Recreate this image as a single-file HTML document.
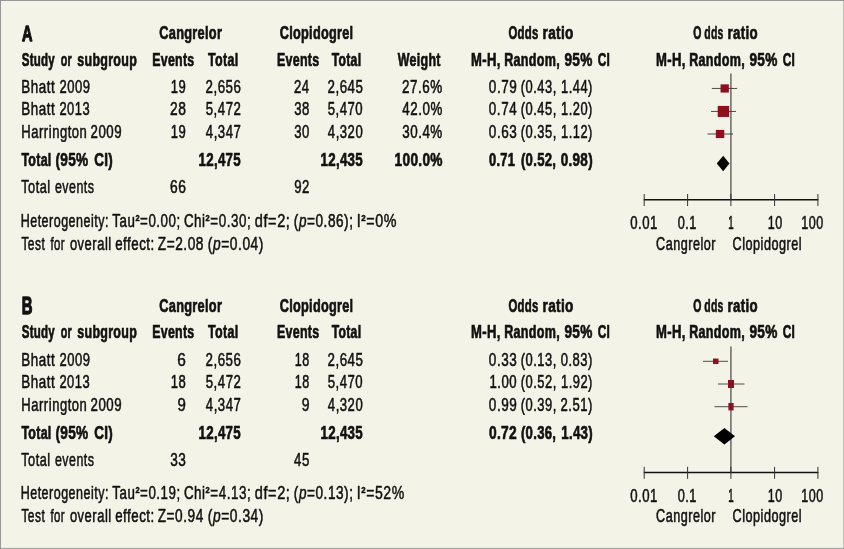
<!DOCTYPE html>
<html lang="en"><head><meta charset="utf-8"><title>Forest plot</title>
<style>
html,body{margin:0;padding:0;background:#f3f3e7;}
svg{display:block;}
text{font-family:"Liberation Sans",sans-serif;fill:#111;stroke:#111;vector-effect:non-scaling-stroke;stroke-linejoin:round;}
</style></head><body>
<svg width="844" height="549" viewBox="0 0 844 549">
<rect x="0" y="0" width="844" height="549" fill="#f3f3e7"/>
<rect x="843" y="0" width="1" height="549" fill="#c2c2bc"/>
<rect x="0" y="547.9" width="844" height="1.1" fill="#a2a2a0"/>
<rect x="0" y="0" width="844" height="1" fill="#979797"/>
<rect x="0" y="0" width="1" height="549" fill="#979797"/>

<line x1="730.9" y1="73.6" x2="730.9" y2="199.7" stroke="#72726c" stroke-width="1.6"/>
<line x1="711.8" y1="88.45" x2="737.2" y2="88.45" stroke="#383838" stroke-width="0.9"/>
<line x1="711" y1="111.45" x2="736" y2="111.45" stroke="#383838" stroke-width="0.9"/>
<line x1="707.5" y1="134" x2="733" y2="134" stroke="#383838" stroke-width="0.9"/>
<rect x="720.55" y="84.35" width="8.3" height="8.2" fill="#8f0f1e"/>
<rect x="717.70" y="105.95" width="11.4" height="11.0" fill="#8f0f1e"/>
<rect x="715.85" y="129.90" width="8.4" height="8.2" fill="#8f0f1e"/>
<polygon points="716.8,163.5 723.15,155.8 729.5,163.5 723.15,171.2" fill="#000"/>
<line x1="643.7" y1="199.7" x2="818.4" y2="199.7" stroke="#111" stroke-width="1.5"/>
<line x1="644.2" y1="194.0" x2="644.2" y2="206.0" stroke="#333" stroke-width="1"/>
<line x1="687.6" y1="194.0" x2="687.6" y2="206.0" stroke="#333" stroke-width="1"/>
<line x1="730.9" y1="194.0" x2="730.9" y2="206.0" stroke="#333" stroke-width="1"/>
<line x1="774.6" y1="194.0" x2="774.6" y2="206.0" stroke="#333" stroke-width="1"/>
<line x1="817.9" y1="194.0" x2="817.9" y2="206.0" stroke="#333" stroke-width="1"/>
<line x1="730.9" y1="346.40000000000003" x2="730.9" y2="472.5" stroke="#72726c" stroke-width="1.6"/>
<line x1="703" y1="361.3" x2="728" y2="361.3" stroke="#383838" stroke-width="0.9"/>
<line x1="718" y1="384.0" x2="744.5" y2="384.0" stroke="#383838" stroke-width="0.9"/>
<line x1="714.5" y1="406.70000000000005" x2="747.5" y2="406.70000000000005" stroke="#383838" stroke-width="0.9"/>
<rect x="713.00" y="358.55" width="5.5" height="5.5" fill="#8f0f1e"/>
<rect x="728.00" y="380.00" width="6" height="8" fill="#8f0f1e"/>
<rect x="728.40" y="403.00" width="5.2" height="7.4" fill="#8f0f1e"/>
<polygon points="713.8,436.20000000000005 724.4,428.00000000000006 735,436.20000000000005 724.4,444.40000000000003" fill="#000"/>
<line x1="643.7" y1="472.5" x2="818.4" y2="472.5" stroke="#111" stroke-width="1.5"/>
<line x1="644.2" y1="466.8" x2="644.2" y2="478.8" stroke="#333" stroke-width="1"/>
<line x1="687.6" y1="466.8" x2="687.6" y2="478.8" stroke="#333" stroke-width="1"/>
<line x1="730.9" y1="466.8" x2="730.9" y2="478.8" stroke="#333" stroke-width="1"/>
<line x1="774.6" y1="466.8" x2="774.6" y2="478.8" stroke="#333" stroke-width="1"/>
<line x1="817.9" y1="466.8" x2="817.9" y2="478.8" stroke="#333" stroke-width="1"/>
<g opacity="0.999">
<text transform="translate(22.03 41.30) scale(0.6467 1)" font-size="22.5" font-weight="bold" stroke-width="1.1">A</text>
<text transform="translate(159.26 38.50) scale(0.7261 1)" font-size="17.6" font-weight="bold" stroke-width="0.6" letter-spacing="0.4">Cangrelor</text>
<text transform="translate(279.76 38.50) scale(0.7208 1)" font-size="17.6" font-weight="bold" stroke-width="0.6" letter-spacing="0.4">Clopidogrel</text>
<text transform="translate(508.52 38.50) scale(0.6458 1)" font-size="17.6" font-weight="bold" stroke-width="0.6" letter-spacing="0.4">Odds</text>
<text transform="translate(542.53 38.50) scale(0.7748 1)" font-size="17.6" font-weight="bold" stroke-width="0.6" letter-spacing="0.4">ratio</text>
<text transform="translate(693.26 38.50) scale(0.5929 1)" font-size="17.6" font-weight="bold" stroke-width="0.6" letter-spacing="0.4">O<tspan dx='4.6'>dds</tspan></text>
<text transform="translate(727.56 38.50) scale(0.7550 1)" font-size="17.6" font-weight="bold" stroke-width="0.6" letter-spacing="0.4">ratio</text>
<text transform="translate(21.77 65.60) scale(0.6533 1)" font-size="17.6" font-weight="bold" stroke-width="0.6" letter-spacing="0.4">Study</text>
<text transform="translate(60.74 65.60) scale(0.6118 1)" font-size="17.6" font-weight="bold" stroke-width="0.6" letter-spacing="0.4">or</text>
<text transform="translate(77.37 65.60) scale(0.7079 1)" font-size="17.6" font-weight="bold" stroke-width="0.6" letter-spacing="0.4">subgroup</text>
<text transform="translate(152.22 65.60) scale(0.7030 1)" font-size="17.6" font-weight="bold" stroke-width="0.6" letter-spacing="0.4">Events</text>
<text transform="translate(208.12 65.60) scale(0.7092 1)" font-size="17.6" font-weight="bold" stroke-width="0.6" letter-spacing="0.4">Total</text>
<text transform="translate(276.91 65.60) scale(0.7082 1)" font-size="17.6" font-weight="bold" stroke-width="0.6" letter-spacing="0.4">Events</text>
<text transform="translate(331.63 65.60) scale(0.6969 1)" font-size="17.6" font-weight="bold" stroke-width="0.6" letter-spacing="0.4">Total</text>
<text transform="translate(397.80 65.60) scale(0.7067 1)" font-size="17.6" font-weight="bold" stroke-width="0.6" letter-spacing="0.4">Weight</text>
<text transform="translate(471.12 65.60) scale(0.7419 1)" font-size="17.6" font-weight="bold" stroke-width="0.6" letter-spacing="0.4">M-H,</text>
<text transform="translate(504.21 65.60) scale(0.7150 1)" font-size="17.6" font-weight="bold" stroke-width="0.6" letter-spacing="0.4">Random,</text>
<text transform="translate(564.41 65.60) scale(0.7743 1)" font-size="17.6" font-weight="bold" stroke-width="0.6" letter-spacing="0.4">95%</text>
<text transform="translate(597.69 65.60) scale(0.6750 1)" font-size="17.6" font-weight="bold" stroke-width="0.6" letter-spacing="0.4">CI</text>
<text transform="translate(656.12 65.60) scale(0.7419 1)" font-size="17.6" font-weight="bold" stroke-width="0.6" letter-spacing="0.4">M-H,</text>
<text transform="translate(689.21 65.60) scale(0.7150 1)" font-size="17.6" font-weight="bold" stroke-width="0.6" letter-spacing="0.4">Random,</text>
<text transform="translate(749.41 65.60) scale(0.7743 1)" font-size="17.6" font-weight="bold" stroke-width="0.6" letter-spacing="0.4">95%</text>
<text transform="translate(782.69 65.60) scale(0.6750 1)" font-size="17.6" font-weight="bold" stroke-width="0.6" letter-spacing="0.4">CI</text>
<text transform="translate(21.30 92.80) scale(0.7626 1)" font-size="17.6" font-weight="normal" stroke-width="0.48" letter-spacing="0.7">Bhatt</text>
<text transform="translate(59.40 92.80) scale(0.7397 1)" font-size="17.6" font-weight="normal" stroke-width="0.48" letter-spacing="0.7">2009</text>
<text transform="translate(170.81 92.80) scale(0.7408 1)" font-size="17.6" font-weight="normal" stroke-width="0.48" letter-spacing="0.7">19</text>
<text transform="translate(205.48 92.80) scale(0.7560 1)" font-size="17.6" font-weight="normal" stroke-width="0.48" letter-spacing="0.7">2,656</text>
<text transform="translate(293.99 92.80) scale(0.7477 1)" font-size="17.6" font-weight="normal" stroke-width="0.48" letter-spacing="0.7">24</text>
<text transform="translate(327.48 92.80) scale(0.7560 1)" font-size="17.6" font-weight="normal" stroke-width="0.48" letter-spacing="0.7">2,645</text>
<text transform="translate(401.97 92.80) scale(0.7651 1)" font-size="17.6" font-weight="normal" stroke-width="0.48" letter-spacing="0.7">27.6%</text>
<text transform="translate(488.86 92.80) scale(0.7689 1)" font-size="17.6" font-weight="normal" stroke-width="0.48" letter-spacing="0.7">0.79</text>
<text transform="translate(520.71 92.80) scale(0.7330 1)" font-size="17.6" font-weight="normal" stroke-width="0.48" letter-spacing="0.7">(0.43,</text>
<text transform="translate(561.03 92.80) scale(0.7314 1)" font-size="17.6" font-weight="normal" stroke-width="0.48" letter-spacing="0.7">1.44)</text>
<text transform="translate(21.30 114.80) scale(0.7626 1)" font-size="17.6" font-weight="normal" stroke-width="0.48" letter-spacing="0.7">Bhatt</text>
<text transform="translate(59.41 114.80) scale(0.7347 1)" font-size="17.6" font-weight="normal" stroke-width="0.48" letter-spacing="0.7">2013</text>
<text transform="translate(169.96 114.80) scale(0.7849 1)" font-size="17.6" font-weight="normal" stroke-width="0.48" letter-spacing="0.7">28</text>
<text transform="translate(205.68 114.80) scale(0.7518 1)" font-size="17.6" font-weight="normal" stroke-width="0.48" letter-spacing="0.7">5,472</text>
<text transform="translate(294.18 114.80) scale(0.7477 1)" font-size="17.6" font-weight="normal" stroke-width="0.48" letter-spacing="0.7">38</text>
<text transform="translate(327.68 114.80) scale(0.7477 1)" font-size="17.6" font-weight="normal" stroke-width="0.48" letter-spacing="0.7">5,470</text>
<text transform="translate(402.36 114.80) scale(0.7577 1)" font-size="17.6" font-weight="normal" stroke-width="0.48" letter-spacing="0.7">42.0%</text>
<text transform="translate(488.87 114.80) scale(0.7634 1)" font-size="17.6" font-weight="normal" stroke-width="0.48" letter-spacing="0.7">0.74</text>
<text transform="translate(520.71 114.80) scale(0.7330 1)" font-size="17.6" font-weight="normal" stroke-width="0.48" letter-spacing="0.7">(0.45,</text>
<text transform="translate(561.03 114.80) scale(0.7314 1)" font-size="17.6" font-weight="normal" stroke-width="0.48" letter-spacing="0.7">1.20)</text>
<text transform="translate(21.33 137.70) scale(0.7408 1)" font-size="17.6" font-weight="normal" stroke-width="0.48" letter-spacing="0.7">Harrington</text>
<text transform="translate(90.59 137.70) scale(0.7524 1)" font-size="17.6" font-weight="normal" stroke-width="0.48" letter-spacing="0.7">2009</text>
<text transform="translate(170.81 137.70) scale(0.7408 1)" font-size="17.6" font-weight="normal" stroke-width="0.48" letter-spacing="0.7">19</text>
<text transform="translate(205.87 137.70) scale(0.7477 1)" font-size="17.6" font-weight="normal" stroke-width="0.48" letter-spacing="0.7">4,347</text>
<text transform="translate(294.18 137.70) scale(0.7477 1)" font-size="17.6" font-weight="normal" stroke-width="0.48" letter-spacing="0.7">30</text>
<text transform="translate(327.87 137.70) scale(0.7436 1)" font-size="17.6" font-weight="normal" stroke-width="0.48" letter-spacing="0.7">4,320</text>
<text transform="translate(402.17 137.70) scale(0.7614 1)" font-size="17.6" font-weight="normal" stroke-width="0.48" letter-spacing="0.7">30.4%</text>
<text transform="translate(488.86 137.70) scale(0.7689 1)" font-size="17.6" font-weight="normal" stroke-width="0.48" letter-spacing="0.7">0.63</text>
<text transform="translate(520.71 137.70) scale(0.7330 1)" font-size="17.6" font-weight="normal" stroke-width="0.48" letter-spacing="0.7">(0.35,</text>
<text transform="translate(561.03 137.70) scale(0.7314 1)" font-size="17.6" font-weight="normal" stroke-width="0.48" letter-spacing="0.7">1.12)</text>
<text transform="translate(21.42 166.00) scale(0.7067 1)" font-size="17.6" font-weight="bold" stroke-width="0.6" letter-spacing="0.4">Total</text>
<text transform="translate(55.42 166.00) scale(0.7732 1)" font-size="17.6" font-weight="bold" stroke-width="0.6" letter-spacing="0.4">(95%</text>
<text transform="translate(94.23 166.00) scale(0.7644 1)" font-size="17.6" font-weight="bold" stroke-width="0.6" letter-spacing="0.4">CI)</text>
<text transform="translate(198.55 166.00) scale(0.7539 1)" font-size="17.6" font-weight="bold" stroke-width="0.6" letter-spacing="0.4">12,475</text>
<text transform="translate(320.55 166.00) scale(0.7539 1)" font-size="17.6" font-weight="bold" stroke-width="0.6" letter-spacing="0.4">12,435</text>
<text transform="translate(394.52 166.00) scale(0.7784 1)" font-size="17.6" font-weight="bold" stroke-width="0.6" letter-spacing="0.4">100.0%</text>
<text transform="translate(488.95 166.00) scale(0.7328 1)" font-size="17.6" font-weight="bold" stroke-width="0.6" letter-spacing="0.4">0.71</text>
<text transform="translate(520.94 166.00) scale(0.7467 1)" font-size="17.6" font-weight="bold" stroke-width="0.6" letter-spacing="0.4">(0.52,</text>
<text transform="translate(560.73 166.00) scale(0.7650 1)" font-size="17.6" font-weight="bold" stroke-width="0.6" letter-spacing="0.4">0.98)</text>
<text transform="translate(21.18 192.80) scale(0.7247 1)" font-size="17.6" font-weight="normal" stroke-width="0.48" letter-spacing="0.7">Total</text>
<text transform="translate(54.91 192.80) scale(0.7059 1)" font-size="17.6" font-weight="normal" stroke-width="0.48" letter-spacing="0.7">events</text>
<text transform="translate(169.96 192.80) scale(0.7849 1)" font-size="17.6" font-weight="normal" stroke-width="0.48" letter-spacing="0.7">66</text>
<text transform="translate(294.18 192.80) scale(0.7477 1)" font-size="17.6" font-weight="normal" stroke-width="0.48" letter-spacing="0.7">92</text>
<text transform="translate(20.67 227.00) scale(0.7105 1)" font-size="17.6" font-weight="normal" stroke-width="0.48" letter-spacing="0.7">Heterogeneity:</text>
<text transform="translate(112.36 227.00) scale(0.7579 1)" font-size="17.6" font-weight="normal" stroke-width="0.48" letter-spacing="0.7">Tau<tspan font-size='9.8' font-weight='bold' dy='-6.4'>2</tspan><tspan dy='6.4'>=0.00;</tspan></text>
<text transform="translate(183.88 227.00) scale(0.7626 1)" font-size="17.6" font-weight="normal" stroke-width="0.48" letter-spacing="0.7">Chi<tspan font-size='9.8' font-weight='bold' dy='-6.4'>2</tspan><tspan dy='6.4'>=0.30;</tspan></text>
<text transform="translate(254.82 227.00) scale(0.8278 1)" font-size="17.6" font-weight="normal" stroke-width="0.48" letter-spacing="0.7">df=2;</text>
<text transform="translate(293.87 227.00) scale(0.7719 1)" font-size="17.6" font-weight="normal" stroke-width="0.48" letter-spacing="0.7">(<tspan font-style='italic'>p</tspan>=0.86);</text>
<text transform="translate(356.72 227.00) scale(0.8133 1)" font-size="17.6" font-weight="normal" stroke-width="0.48" letter-spacing="0.7">I<tspan font-size='9.8' font-weight='bold' dy='-6.4'>2</tspan><tspan dy='6.4'>=0%</tspan></text>
<text transform="translate(21.40 249.60) scale(0.6791 1)" font-size="17.6" font-weight="normal" stroke-width="0.48" letter-spacing="0.7">Test</text>
<text transform="translate(50.38 249.60) scale(0.6521 1)" font-size="17.6" font-weight="normal" stroke-width="0.48" letter-spacing="0.7">for</text>
<text transform="translate(69.89 249.60) scale(0.7374 1)" font-size="17.6" font-weight="normal" stroke-width="0.48" letter-spacing="0.7">overall</text>
<text transform="translate(115.17 249.60) scale(0.7539 1)" font-size="17.6" font-weight="normal" stroke-width="0.48" letter-spacing="0.7">effect:</text>
<text transform="translate(157.75 249.60) scale(0.7777 1)" font-size="17.6" font-weight="normal" stroke-width="0.48" letter-spacing="0.7">Z=2.08</text>
<text transform="translate(207.86 249.60) scale(0.7828 1)" font-size="17.6" font-weight="normal" stroke-width="0.48" letter-spacing="0.7">(<tspan font-style='italic'>p</tspan>=0.04)</text>
<text transform="translate(630.18 229.00) scale(0.7488 1)" font-size="17.6" font-weight="normal" stroke-width="0.48" letter-spacing="0.7">0.01</text>
<text transform="translate(677.70 229.00) scale(0.7225 1)" font-size="17.6" font-weight="normal" stroke-width="0.48" letter-spacing="0.7">0.1</text>
<text transform="translate(728.24 229.00) scale(0.5574 1)" font-size="17.6" font-weight="normal" stroke-width="0.48" letter-spacing="0.7">1</text>
<text transform="translate(767.85 229.00) scale(0.7134 1)" font-size="17.6" font-weight="normal" stroke-width="0.48" letter-spacing="0.7">10</text>
<text transform="translate(801.35 229.00) scale(0.7137 1)" font-size="17.6" font-weight="normal" stroke-width="0.48" letter-spacing="0.7">100</text>
<text transform="translate(656.02 249.60) scale(0.7180 1)" font-size="17.6" font-weight="normal" stroke-width="0.48" letter-spacing="0.7">Cangrelor</text>
<text transform="translate(732.52 249.60) scale(0.7202 1)" font-size="17.6" font-weight="normal" stroke-width="0.48" letter-spacing="0.7">Clopidogrel</text>
<text transform="translate(21.68 314.20) scale(0.6456 1)" font-size="23.1" font-weight="bold" stroke-width="1.1">B</text>
<text transform="translate(159.26 312.10) scale(0.7261 1)" font-size="17.6" font-weight="bold" stroke-width="0.6" letter-spacing="0.4">Cangrelor</text>
<text transform="translate(279.76 312.10) scale(0.7208 1)" font-size="17.6" font-weight="bold" stroke-width="0.6" letter-spacing="0.4">Clopidogrel</text>
<text transform="translate(508.52 312.10) scale(0.6458 1)" font-size="17.6" font-weight="bold" stroke-width="0.6" letter-spacing="0.4">Odds</text>
<text transform="translate(542.53 312.10) scale(0.7748 1)" font-size="17.6" font-weight="bold" stroke-width="0.6" letter-spacing="0.4">ratio</text>
<text transform="translate(693.26 312.10) scale(0.5929 1)" font-size="17.6" font-weight="bold" stroke-width="0.6" letter-spacing="0.4">O<tspan dx='4.6'>dds</tspan></text>
<text transform="translate(727.56 312.10) scale(0.7550 1)" font-size="17.6" font-weight="bold" stroke-width="0.6" letter-spacing="0.4">ratio</text>
<text transform="translate(21.77 338.20) scale(0.6533 1)" font-size="17.6" font-weight="bold" stroke-width="0.6" letter-spacing="0.4">Study</text>
<text transform="translate(60.74 338.20) scale(0.6118 1)" font-size="17.6" font-weight="bold" stroke-width="0.6" letter-spacing="0.4">or</text>
<text transform="translate(77.37 338.20) scale(0.7079 1)" font-size="17.6" font-weight="bold" stroke-width="0.6" letter-spacing="0.4">subgroup</text>
<text transform="translate(152.22 338.20) scale(0.7030 1)" font-size="17.6" font-weight="bold" stroke-width="0.6" letter-spacing="0.4">Events</text>
<text transform="translate(208.12 338.20) scale(0.7092 1)" font-size="17.6" font-weight="bold" stroke-width="0.6" letter-spacing="0.4">Total</text>
<text transform="translate(276.91 338.20) scale(0.7082 1)" font-size="17.6" font-weight="bold" stroke-width="0.6" letter-spacing="0.4">Events</text>
<text transform="translate(331.63 338.20) scale(0.6969 1)" font-size="17.6" font-weight="bold" stroke-width="0.6" letter-spacing="0.4">Total</text>
<text transform="translate(471.12 338.20) scale(0.7419 1)" font-size="17.6" font-weight="bold" stroke-width="0.6" letter-spacing="0.4">M-H,</text>
<text transform="translate(504.21 338.20) scale(0.7150 1)" font-size="17.6" font-weight="bold" stroke-width="0.6" letter-spacing="0.4">Random,</text>
<text transform="translate(564.41 338.20) scale(0.7743 1)" font-size="17.6" font-weight="bold" stroke-width="0.6" letter-spacing="0.4">95%</text>
<text transform="translate(597.69 338.20) scale(0.6750 1)" font-size="17.6" font-weight="bold" stroke-width="0.6" letter-spacing="0.4">CI</text>
<text transform="translate(656.12 338.20) scale(0.7419 1)" font-size="17.6" font-weight="bold" stroke-width="0.6" letter-spacing="0.4">M-H,</text>
<text transform="translate(689.21 338.20) scale(0.7150 1)" font-size="17.6" font-weight="bold" stroke-width="0.6" letter-spacing="0.4">Random,</text>
<text transform="translate(749.41 338.20) scale(0.7743 1)" font-size="17.6" font-weight="bold" stroke-width="0.6" letter-spacing="0.4">95%</text>
<text transform="translate(782.69 338.20) scale(0.6750 1)" font-size="17.6" font-weight="bold" stroke-width="0.6" letter-spacing="0.4">CI</text>
<text transform="translate(21.30 365.80) scale(0.7626 1)" font-size="17.6" font-weight="normal" stroke-width="0.48" letter-spacing="0.7">Bhatt</text>
<text transform="translate(59.40 365.80) scale(0.7397 1)" font-size="17.6" font-weight="normal" stroke-width="0.48" letter-spacing="0.7">2009</text>
<text transform="translate(177.36 365.80) scale(0.8775 1)" font-size="17.6" font-weight="normal" stroke-width="0.48" letter-spacing="0.7">6</text>
<text transform="translate(205.48 365.80) scale(0.7560 1)" font-size="17.6" font-weight="normal" stroke-width="0.48" letter-spacing="0.7">2,656</text>
<text transform="translate(294.85 365.80) scale(0.7134 1)" font-size="17.6" font-weight="normal" stroke-width="0.48" letter-spacing="0.7">18</text>
<text transform="translate(327.48 365.80) scale(0.7560 1)" font-size="17.6" font-weight="normal" stroke-width="0.48" letter-spacing="0.7">2,645</text>
<text transform="translate(488.86 365.80) scale(0.7689 1)" font-size="17.6" font-weight="normal" stroke-width="0.48" letter-spacing="0.7">0.33</text>
<text transform="translate(520.71 365.80) scale(0.7330 1)" font-size="17.6" font-weight="normal" stroke-width="0.48" letter-spacing="0.7">(0.13,</text>
<text transform="translate(560.69 365.80) scale(0.7395 1)" font-size="17.6" font-weight="normal" stroke-width="0.48" letter-spacing="0.7">0.83)</text>
<text transform="translate(21.30 387.90) scale(0.7626 1)" font-size="17.6" font-weight="normal" stroke-width="0.48" letter-spacing="0.7">Bhatt</text>
<text transform="translate(59.41 387.90) scale(0.7347 1)" font-size="17.6" font-weight="normal" stroke-width="0.48" letter-spacing="0.7">2013</text>
<text transform="translate(170.81 387.90) scale(0.7408 1)" font-size="17.6" font-weight="normal" stroke-width="0.48" letter-spacing="0.7">18</text>
<text transform="translate(205.68 387.90) scale(0.7518 1)" font-size="17.6" font-weight="normal" stroke-width="0.48" letter-spacing="0.7">5,472</text>
<text transform="translate(294.85 387.90) scale(0.7134 1)" font-size="17.6" font-weight="normal" stroke-width="0.48" letter-spacing="0.7">18</text>
<text transform="translate(327.68 387.90) scale(0.7477 1)" font-size="17.6" font-weight="normal" stroke-width="0.48" letter-spacing="0.7">5,470</text>
<text transform="translate(489.40 387.90) scale(0.7484 1)" font-size="17.6" font-weight="normal" stroke-width="0.48" letter-spacing="0.7">1.00</text>
<text transform="translate(520.71 387.90) scale(0.7330 1)" font-size="17.6" font-weight="normal" stroke-width="0.48" letter-spacing="0.7">(0.52,</text>
<text transform="translate(561.03 387.90) scale(0.7314 1)" font-size="17.6" font-weight="normal" stroke-width="0.48" letter-spacing="0.7">1.92)</text>
<text transform="translate(21.33 410.50) scale(0.7408 1)" font-size="17.6" font-weight="normal" stroke-width="0.48" letter-spacing="0.7">Harrington</text>
<text transform="translate(90.59 410.50) scale(0.7524 1)" font-size="17.6" font-weight="normal" stroke-width="0.48" letter-spacing="0.7">2009</text>
<text transform="translate(177.60 410.50) scale(0.8509 1)" font-size="17.6" font-weight="normal" stroke-width="0.48" letter-spacing="0.7">9</text>
<text transform="translate(205.87 410.50) scale(0.7477 1)" font-size="17.6" font-weight="normal" stroke-width="0.48" letter-spacing="0.7">4,347</text>
<text transform="translate(301.65 410.50) scale(0.7903 1)" font-size="17.6" font-weight="normal" stroke-width="0.48" letter-spacing="0.7">9</text>
<text transform="translate(327.87 410.50) scale(0.7436 1)" font-size="17.6" font-weight="normal" stroke-width="0.48" letter-spacing="0.7">4,320</text>
<text transform="translate(488.86 410.50) scale(0.7689 1)" font-size="17.6" font-weight="normal" stroke-width="0.48" letter-spacing="0.7">0.99</text>
<text transform="translate(520.71 410.50) scale(0.7330 1)" font-size="17.6" font-weight="normal" stroke-width="0.48" letter-spacing="0.7">(0.39,</text>
<text transform="translate(560.50 410.50) scale(0.7440 1)" font-size="17.6" font-weight="normal" stroke-width="0.48" letter-spacing="0.7">2.51)</text>
<text transform="translate(21.42 438.60) scale(0.7067 1)" font-size="17.6" font-weight="bold" stroke-width="0.6" letter-spacing="0.4">Total</text>
<text transform="translate(55.42 438.60) scale(0.7732 1)" font-size="17.6" font-weight="bold" stroke-width="0.6" letter-spacing="0.4">(95%</text>
<text transform="translate(94.23 438.60) scale(0.7644 1)" font-size="17.6" font-weight="bold" stroke-width="0.6" letter-spacing="0.4">CI)</text>
<text transform="translate(198.55 438.60) scale(0.7539 1)" font-size="17.6" font-weight="bold" stroke-width="0.6" letter-spacing="0.4">12,475</text>
<text transform="translate(320.55 438.60) scale(0.7539 1)" font-size="17.6" font-weight="bold" stroke-width="0.6" letter-spacing="0.4">12,435</text>
<text transform="translate(488.91 438.60) scale(0.7824 1)" font-size="17.6" font-weight="bold" stroke-width="0.6" letter-spacing="0.4">0.72</text>
<text transform="translate(520.94 438.60) scale(0.7467 1)" font-size="17.6" font-weight="bold" stroke-width="0.6" letter-spacing="0.4">(0.36,</text>
<text transform="translate(561.25 438.60) scale(0.7522 1)" font-size="17.6" font-weight="bold" stroke-width="0.6" letter-spacing="0.4">1.43)</text>
<text transform="translate(21.18 466.40) scale(0.7247 1)" font-size="17.6" font-weight="normal" stroke-width="0.48" letter-spacing="0.7">Total</text>
<text transform="translate(54.91 466.40) scale(0.7059 1)" font-size="17.6" font-weight="normal" stroke-width="0.48" letter-spacing="0.7">events</text>
<text transform="translate(170.16 466.40) scale(0.7744 1)" font-size="17.6" font-weight="normal" stroke-width="0.48" letter-spacing="0.7">33</text>
<text transform="translate(294.06 466.40) scale(0.7537 1)" font-size="17.6" font-weight="normal" stroke-width="0.48" letter-spacing="0.7">45</text>
<text transform="translate(20.67 498.90) scale(0.7105 1)" font-size="17.6" font-weight="normal" stroke-width="0.48" letter-spacing="0.7">Heterogeneity:</text>
<text transform="translate(112.36 498.90) scale(0.7579 1)" font-size="17.6" font-weight="normal" stroke-width="0.48" letter-spacing="0.7">Tau<tspan font-size='9.8' font-weight='bold' dy='-6.4'>2</tspan><tspan dy='6.4'>=0.19;</tspan></text>
<text transform="translate(183.88 498.90) scale(0.7626 1)" font-size="17.6" font-weight="normal" stroke-width="0.48" letter-spacing="0.7">Chi<tspan font-size='9.8' font-weight='bold' dy='-6.4'>2</tspan><tspan dy='6.4'>=4.13;</tspan></text>
<text transform="translate(254.82 498.90) scale(0.8278 1)" font-size="17.6" font-weight="normal" stroke-width="0.48" letter-spacing="0.7">df=2;</text>
<text transform="translate(293.87 498.90) scale(0.7719 1)" font-size="17.6" font-weight="normal" stroke-width="0.48" letter-spacing="0.7">(<tspan font-style='italic'>p</tspan>=0.13);</text>
<text transform="translate(356.74 498.90) scale(0.8003 1)" font-size="17.6" font-weight="normal" stroke-width="0.48" letter-spacing="0.7">I<tspan font-size='9.8' font-weight='bold' dy='-6.4'>2</tspan><tspan dy='6.4'>=52%</tspan></text>
<text transform="translate(21.40 522.20) scale(0.6791 1)" font-size="17.6" font-weight="normal" stroke-width="0.48" letter-spacing="0.7">Test</text>
<text transform="translate(50.38 522.20) scale(0.6521 1)" font-size="17.6" font-weight="normal" stroke-width="0.48" letter-spacing="0.7">for</text>
<text transform="translate(69.89 522.20) scale(0.7374 1)" font-size="17.6" font-weight="normal" stroke-width="0.48" letter-spacing="0.7">overall</text>
<text transform="translate(115.17 522.20) scale(0.7539 1)" font-size="17.6" font-weight="normal" stroke-width="0.48" letter-spacing="0.7">effect:</text>
<text transform="translate(157.75 522.20) scale(0.7744 1)" font-size="17.6" font-weight="normal" stroke-width="0.48" letter-spacing="0.7">Z=0.94</text>
<text transform="translate(207.86 522.20) scale(0.7828 1)" font-size="17.6" font-weight="normal" stroke-width="0.48" letter-spacing="0.7">(<tspan font-style='italic'>p</tspan>=0.34)</text>
<text transform="translate(630.18 501.60) scale(0.7488 1)" font-size="17.6" font-weight="normal" stroke-width="0.48" letter-spacing="0.7">0.01</text>
<text transform="translate(677.70 501.60) scale(0.7225 1)" font-size="17.6" font-weight="normal" stroke-width="0.48" letter-spacing="0.7">0.1</text>
<text transform="translate(728.24 501.60) scale(0.5574 1)" font-size="17.6" font-weight="normal" stroke-width="0.48" letter-spacing="0.7">1</text>
<text transform="translate(767.85 501.60) scale(0.7134 1)" font-size="17.6" font-weight="normal" stroke-width="0.48" letter-spacing="0.7">10</text>
<text transform="translate(801.35 501.60) scale(0.7137 1)" font-size="17.6" font-weight="normal" stroke-width="0.48" letter-spacing="0.7">100</text>
<text transform="translate(656.02 522.20) scale(0.7180 1)" font-size="17.6" font-weight="normal" stroke-width="0.48" letter-spacing="0.7">Cangrelor</text>
<text transform="translate(732.52 522.20) scale(0.7202 1)" font-size="17.6" font-weight="normal" stroke-width="0.48" letter-spacing="0.7">Clopidogrel</text>
</g>
</svg></body></html>
